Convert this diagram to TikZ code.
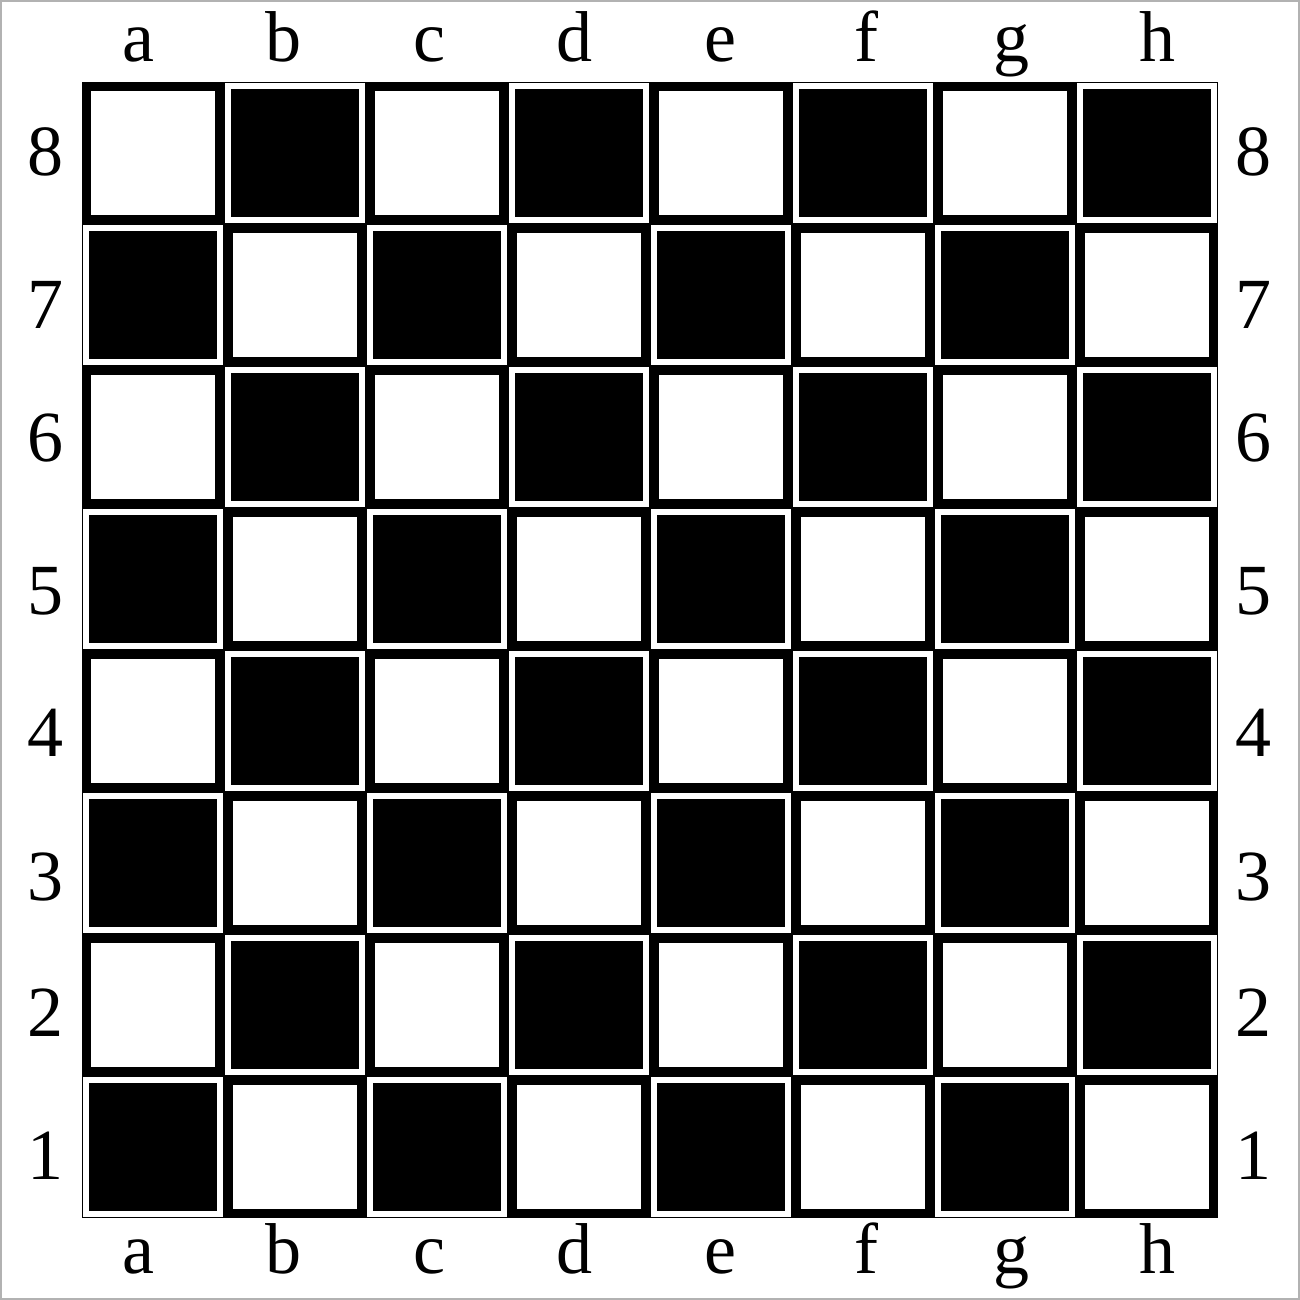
\documentclass[tikz,border=0pt]{standalone}
\usepackage{fontspec}
\setmainfont{Liberation Serif}
\begin{document}
\begin{tikzpicture}[x=0.5pt,y=-0.5pt,
  lbl/.style={font=\fontsize{36}{36}\selectfont, inner sep=0pt},
  lightsq/.style={fill=white},
  darkring/.style={draw=white, line width=2.8pt}]
\useasboundingbox (0,0) rectangle (1300,1300);
\fill[white] (0,0) rectangle (1300,1300);
\draw[gray!60, line width=0.8pt] (0.8,0.8) rectangle (1299.2,1299.2);
\fill[black] (82,82) rectangle (1218,1218);
\foreach \i in {0,...,7}{
  \foreach \j in {0,...,7}{
    \pgfmathsetmacro{\xo}{82+142*\i}
    \pgfmathsetmacro{\yo}{82+142*\j}
    \pgfmathtruncatemacro{\parity}{mod(\i+\j,2)}
    \ifnum\parity=0
      \fill[lightsq] (\xo+9,\yo+9) rectangle (\xo+133,\yo+133);
    \else
      \draw[darkring] (\xo+4,\yo+4) rectangle (\xo+138,\yo+138);
    \fi
  }
}
\foreach \l [count=\k from 0] in {a,b,c,d,e,f,g,h}{
  \node[lbl, anchor=base] (top\l) at (138+145.6*\k,62) {\l};
  \node[lbl, anchor=base] (bot\l) at (138+145.6*\k,1273) {\l};
}
\foreach \r/\yy in {8/152,7/305,6/438,5/591,4/733,3/877,2/1013,1/1156}{
  \node[lbl] (left\r) at (45,\yy) {\r};
  \node[lbl] (right\r) at (1253,\yy) {\r};
}
\end{tikzpicture}
\end{document}
